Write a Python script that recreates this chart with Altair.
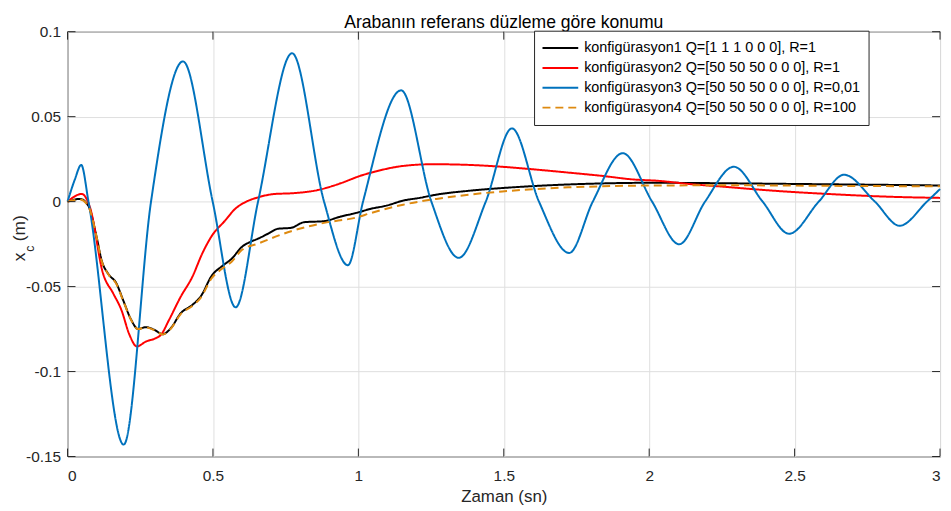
import altair as alt
import pandas as pd

NAMES = [
    "konfigürasyon1 Q=[1 1 1 0 0 0], R=1",
    "konfigürasyon2 Q=[50 50 50 0 0 0], R=1",
    "konfigürasyon3 Q=[50 50 50 0 0 0], R=0,01",
    "konfigürasyon4 Q=[50 50 50 0 0 0], R=100",
]
COLORS = ["#000000", "#ff0000", "#0072bd", "#de8a10"]
DASHES = [[1, 0], [1, 0], [1, 0], [8, 5]]
TITLE = "Arabanın referans düzleme göre konumu"
XTITLE = "Zaman (sn)"

T1 = [0, 0.043, 0.071, 0.1, 0.117, 0.139, 0.168, 0.191, 0.219, 0.242, 0.270, 0.298, 0.327,
      0.355, 0.389, 0.429, 0.457, 0.497, 0.531, 0.565, 0.599, 0.627, 0.655, 0.689, 0.723,
      0.769, 0.814, 0.882, 0.939, 0.996, 1.041, 1.098, 1.154, 1.211, 1.268, 1.381, 1.495,
      1.608, 1.721, 1.835, 2.016, 2.2, 2.5, 2.8, 3.0]
V1 = [0, 0.0016, -0.0023, -0.0209, -0.0345, -0.0423, -0.0481, -0.0579, -0.0696, -0.0749,
      -0.0739, -0.0754, -0.078, -0.0745, -0.0657, -0.0608, -0.056, -0.0433, -0.038, -0.0335,
      -0.0267, -0.0238, -0.0218, -0.0189, -0.016, -0.0154, -0.0121, -0.0115, -0.0088, -0.0065,
      -0.0043, -0.0023, 0.0006, 0.0022, 0.0041, 0.0064, 0.008, 0.0092, 0.0101, 0.0107, 0.0111,
      0.0109, 0.0104, 0.0099, 0.0095]

T2 = [0, 0.049, 0.077, 0.122, 0.157, 0.185, 0.213, 0.238, 0.270, 0.304, 0.321, 0.349, 0.389,
      0.429, 0.463, 0.497, 0.542, 0.576, 0.610, 0.655, 0.712, 0.769, 0.860, 0.939, 1.007,
      1.058, 1.154, 1.256, 1.381, 1.495, 1.608, 1.721, 1.835, 1.948, 2.027, 2.141, 2.254,
      2.367, 2.481, 2.594, 2.708, 2.821, 3.0]
V2 = [0, 0.0045, -0.0033, -0.0423, -0.054, -0.0637, -0.0784, -0.0852, -0.0823, -0.0803,
      -0.0784, -0.0696, -0.056, -0.0443, -0.0306, -0.0199, -0.0111, -0.0043, -0.0004, 0.0025,
      0.0045, 0.0049, 0.0068, 0.0108, 0.0152, 0.0177, 0.021, 0.022, 0.0216, 0.0205, 0.0189,
      0.0171, 0.0152, 0.013, 0.0123, 0.0103, 0.0088, 0.0072, 0.0058, 0.0047, 0.0037, 0.0029,
      0.0022]

T3 = [0, 0.025, 0.047, 0.072, 0.193, 0.287, 0.397, 0.499, 0.578, 0.655, 0.772, 0.882, 0.964,
      1.016, 1.147, 1.251, 1.345, 1.438, 1.528, 1.621, 1.725, 1.806, 1.909, 2.010, 2.103,
      2.192, 2.291, 2.390, 2.481, 2.583, 2.670, 2.776, 2.861, 2.955, 3.0]
V3 = [0, 0.013, 0.0216, 0, -0.143, 0, 0.0825, 0, -0.0622, 0, 0.0873, 0, -0.0374, 0, 0.0655,
      0, -0.0331, 0, 0.0431, 0, -0.0302, 0, 0.0285, 0, -0.0251, 0, 0.0205, 0, -0.0189, 0,
      0.0158, 0, -0.0142, 0, 0.0074]

T4 = [0, 0.043, 0.071, 0.1, 0.117, 0.139, 0.168, 0.191, 0.219, 0.242, 0.270, 0.298, 0.327,
      0.355, 0.389, 0.429, 0.457, 0.497, 0.531, 0.565, 0.599, 0.655, 0.769, 0.882, 0.996,
      1.041, 1.154, 1.268, 1.381, 1.495, 1.608, 1.721, 1.835, 2.016, 2.3, 2.6, 3.0]
V4 = [0, 0.0012, -0.0025, -0.021, -0.0348, -0.0425, -0.0485, -0.0582, -0.0698, -0.075,
      -0.074, -0.0756, -0.0782, -0.0748, -0.0662, -0.0614, -0.0568, -0.0447, -0.0395, -0.0352,
      -0.0285, -0.0247, -0.0174, -0.0125, -0.0092, -0.0068, -0.0018, 0.0016, 0.0041, 0.006,
      0.0074, 0.0084, 0.009, 0.0095, 0.0096, 0.0093, 0.009]

XT = [0, 0.5, 1, 1.5, 2, 2.5, 3]
YT = [-0.15, -0.1, -0.05, 0, 0.05, 0.1]

rows = []
for name, ts, vs in zip(NAMES, [T1, T2, T3, T4], [V1, V2, V3, V4]):
    for t, v in zip(ts, vs):
        rows.append({"t": t, "v": v, "series": name})
df = pd.DataFrame(rows)

FONT = "Liberation Sans"
W, H = 879, 428

X = alt.X("t:Q", scale=alt.Scale(domain=[0, 3], nice=False, zero=False),
          axis=alt.Axis(values=XT, format="~g", grid=True, ticks=False, domain=False,
                        labelPadding=12, labelFontSize=15.5, titleFontSize=17,
                        titleFontWeight="normal", titlePadding=5, title=XTITLE))
Y = alt.Y("v:Q", scale=alt.Scale(domain=[-0.15, 0.1], nice=False, zero=False),
          axis=alt.Axis(values=YT, grid=True, ticks=False, domain=False,
                        labelPadding=7, labelFontSize=15.5, title=None,
                        labelExpr="datum.value < 0 ? '-' + format(-datum.value, '~g') : format(datum.value, '~g')"))

leg = alt.Legend(title=None, orient="none", legendX=470, legendY=-1,
                 symbolType="stroke", symbolSize=1296, symbolStrokeWidth=2,
                 clipHeight=20, rowPadding=0, labelFontSize=14.5, labelFont=FONT,
                 labelColor="#000000", fillColor="#ffffff", strokeColor="#262626",
                 padding=7.5, labelOffset=5, labelLimit=500)

lines = alt.Chart(df).mark_line(strokeWidth=2, interpolate="monotone").encode(
    x=X, y=Y,
    color=alt.Color("series:N", scale=alt.Scale(domain=NAMES, range=COLORS), legend=leg),
    strokeDash=alt.StrokeDash("series:N", scale=alt.Scale(domain=NAMES, range=DASHES), legend=leg),
)

ydf = pd.DataFrame({"v": YT})
xdf = pd.DataFrame({"t": XT})
TL = 8
tick_l = alt.Chart(ydf).mark_rule(color="#262626", strokeWidth=1).encode(
    y=Y, x=alt.value(0), x2=alt.value(TL))
tick_r = alt.Chart(ydf).mark_rule(color="#262626", strokeWidth=1).encode(
    y=Y, x=alt.value(W - TL), x2=alt.value(W))
tick_t = alt.Chart(xdf).mark_rule(color="#262626", strokeWidth=1).encode(
    x=X, y=alt.value(0), y2=alt.value(TL))
tick_b = alt.Chart(xdf).mark_rule(color="#262626", strokeWidth=1).encode(
    x=X, y=alt.value(H - TL), y2=alt.value(H))

ylab_x = alt.Chart(pd.DataFrame({"s": ["x"]})).mark_text(
    angle=270, fontSize=17.5, font=FONT, color="#262626", align="center", baseline="middle"
).encode(text="s:N", x=alt.value(-48), y=alt.value(227))
ylab_c = alt.Chart(pd.DataFrame({"s": ["c"]})).mark_text(
    angle=270, fontSize=12.5, font=FONT, color="#262626", align="center", baseline="middle"
).encode(text="s:N", x=alt.value(-38), y=alt.value(218.5))
ylab_m = alt.Chart(pd.DataFrame({"s": ["(m)"]})).mark_text(
    angle=270, fontSize=17.5, font=FONT, color="#262626", align="center", baseline="middle"
).encode(text="s:N", x=alt.value(-48), y=alt.value(198))

title = alt.Chart(pd.DataFrame({"s": [TITLE]})).mark_text(
    fontSize=17.7, font=FONT, color="#000000", align="center", baseline="alphabetic"
).encode(text="s:N", x=alt.value(W / 2), y=alt.value(-4))

chart = alt.layer(lines, tick_l, tick_r, tick_t, tick_b, ylab_x, ylab_c, ylab_m, title).properties(
    width=W, height=H,
    background="#ffffff",
    padding={"left": 60, "top": 22, "right": 3, "bottom": 50},
    autosize=alt.AutoSizeParams(type="none"),
).configure_view(stroke="#262626", strokeWidth=1).configure_axis(
    labelFont=FONT, titleFont=FONT, labelColor="#262626", titleColor="#262626",
    gridColor="#dfdfdf", gridWidth=1, titleFontWeight="normal"
)

chart.save("out.html", embed_options={"renderer": "svg", "actions": False})
